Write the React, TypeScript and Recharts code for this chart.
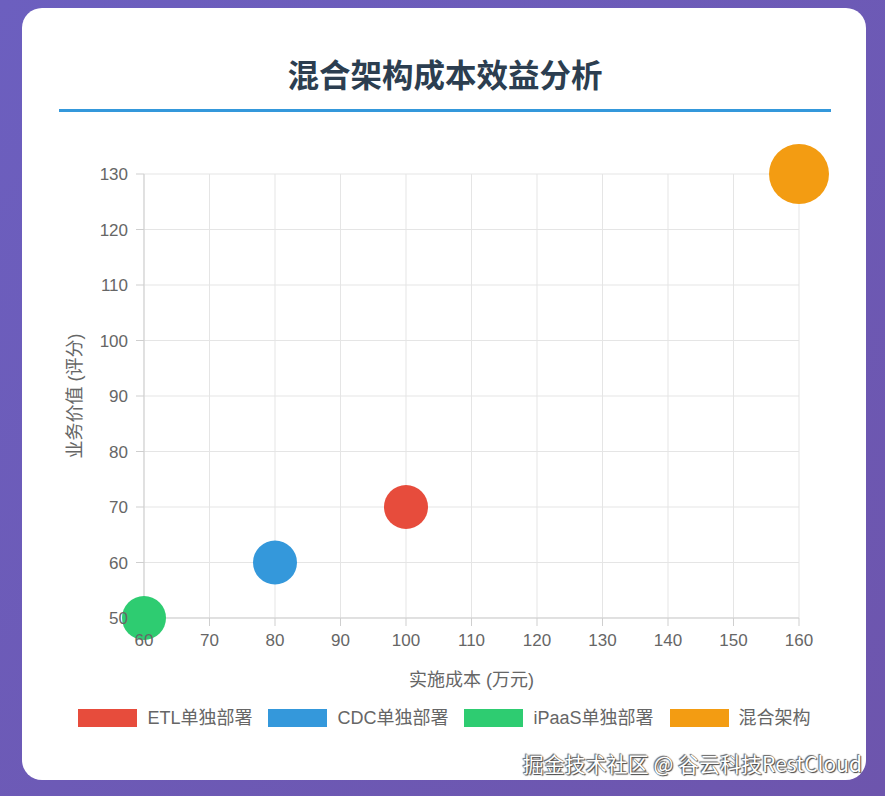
import { ScatterChart, Scatter, XAxis, YAxis, CartesianGrid } from 'recharts'

const categories = ['ETL单独部署', 'CDC单独部署', 'iPaaS单独部署', '混合架构']
const costs = [100, 80, 60, 160] // 实施成本 (万元)
const values = [70, 60, 50, 130] // 业务价值 (评分)
const bubbleSizes = [22, 22, 22, 30]
const colors = ['#e74c3c', '#3498db', '#2ecc71', '#f39c12']
const xTicks = [60, 70, 80, 90, 100, 110, 120, 130, 140, 150, 160]
const yTicks = [50, 60, 70, 80, 90, 100, 110, 120, 130]

const FONT = '"Liberation Sans", Arial, "Noto Sans CJK SC", sans-serif'
const gridColor = '#e5e5e5'
const axisColor = '#cfcfcf'

export default function App() {
  return (
    <div
      style={{
        position: 'absolute',
        left: 0,
        top: 0,
        width: 885,
        height: 796,
        overflow: 'hidden',
        background: 'linear-gradient(135deg, #6c5fbf 0%, #6d55ad 100%)',
        fontFamily: FONT,
      }}
    >
      {/* card */}
      <div
        style={{
          position: 'absolute',
          left: 22,
          top: 8,
          width: 844,
          height: 772,
          background: '#fff',
          borderRadius: 20,
        }}
      />

      {/* title */}
      <div
        style={{
          position: 'absolute',
          left: 0,
          top: 53,
          width: 890,
          height: 40,
          lineHeight: '40px',
          textAlign: 'center',
          fontSize: 31.5,
          fontWeight: 'bold',
          color: '#2c3e50',
          fontFamily: '"Noto Sans CJK SC", sans-serif',
        }}
      >
        混合架构成本效益分析
      </div>
      <div
        style={{
          position: 'absolute',
          left: 59,
          top: 109,
          width: 772,
          height: 3,
          background: '#3498db',
        }}
      />

      <div style={{ position: 'absolute', left: 40, top: 140 }}>
        <ScatterChart
          width={820}
          height={560}
          margin={{ top: 34, right: 61, left: 0, bottom: 12 }}
          style={{ overflow: 'visible' }}
        >
          <CartesianGrid stroke={gridColor} />
          <XAxis
            type="number"
            dataKey="x"
            domain={[60, 160]}
            ticks={xTicks}
            interval={0}
            height={70}
            tickSize={8}
            tickMargin={8}
            stroke={axisColor}
            tick={{ fill: '#666', fontSize: 17 }}
            label={{
              value: '实施成本 (万元)',
              position: 'insideBottom',
              offset: 2,
              style: { fill: '#666', fontSize: 18 },
            }}
          />
          <YAxis
            type="number"
            dataKey="y"
            domain={[50, 130]}
            ticks={yTicks}
            interval={0}
            width={104}
            tickSize={8}
            tickMargin={8}
            stroke={axisColor}
            tick={{ fill: '#666', fontSize: 17 }}
            label={{
              value: '业务价值 (评分)',
              angle: -90,
              position: 'insideLeft',
              offset: 35,
              style: { fill: '#666', fontSize: 18, textAnchor: 'middle' },
            }}
          />
          {categories.map((name, i) => (
            <Scatter
              key={name}
              name={name}
              data={[{ x: costs[i], y: values[i], r: bubbleSizes[i] }]}
              fill={colors[i]}
              isAnimationActive={false}
              shape={(p: any) => <circle cx={p.cx} cy={p.cy} r={p.payload.r} fill={colors[i]} />}
            />
          ))}
        </ScatterChart>
      </div>

      {/* legend */}
      <div
        style={{
          position: 'absolute',
          left: 0,
          top: 708,
          width: 889,
          display: 'flex',
          justifyContent: 'center',
          alignItems: 'center',
          gap: 16,
          fontSize: 18,
          color: '#666',
        }}
      >
        {categories.map((name, i) => (
          <div key={name} style={{ display: 'flex', alignItems: 'center' }}>
            <span
              style={{
                display: 'inline-block',
                width: 59,
                height: 18,
                background: colors[i],
                marginRight: 10,
              }}
            />
            <span style={{ lineHeight: '20px' }}>{name}</span>
          </div>
        ))}
      </div>

      {/* watermark */}
      <div
        style={{
          position: 'absolute',
          right: 23,
          top: 748,
          fontSize: 21,
          lineHeight: '30px',
          color: '#fff',
          fontFamily: '"Noto Sans CJK SC", sans-serif',
          textShadow: '0 0 1px #444, 1px 1px 1px #444, -1px -1px 1px #666',
        }}
      >
        掘金技术社区 @ 谷云科技RestCloud
      </div>
    </div>
  )
}
